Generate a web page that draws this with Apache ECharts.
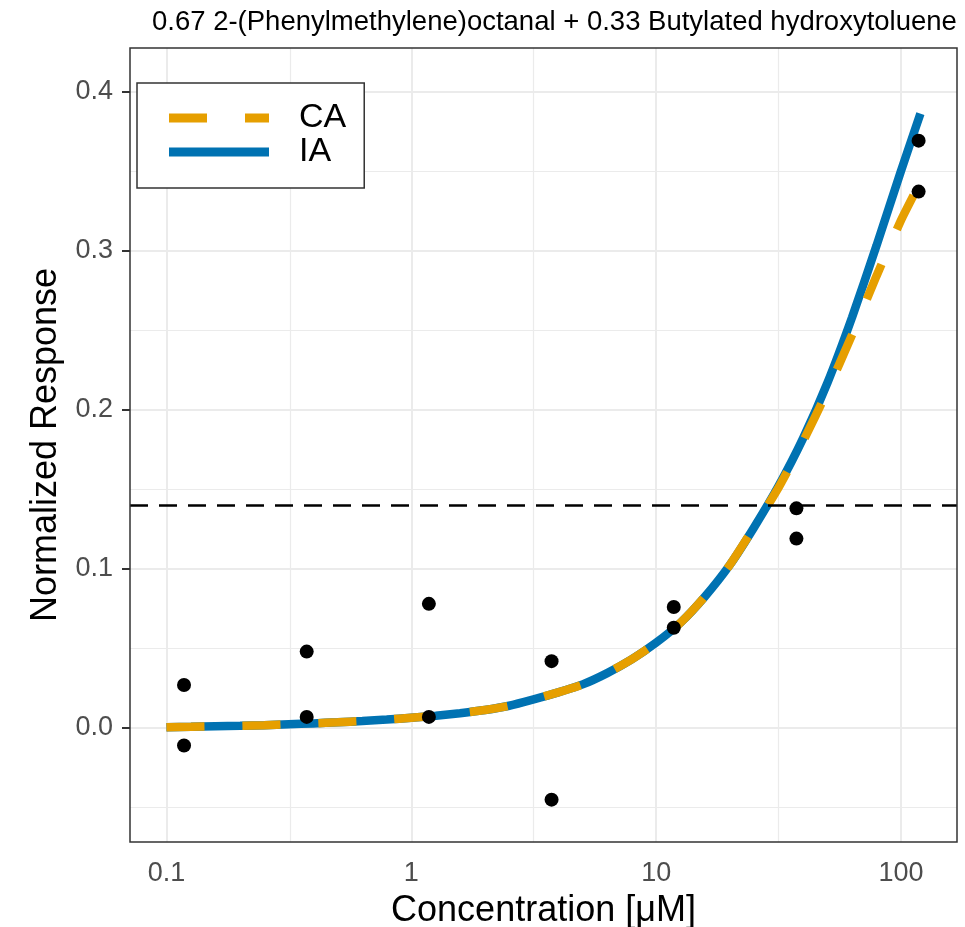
<!DOCTYPE html>
<html>
<head>
<meta charset="utf-8">
<script src="https://cdn.jsdelivr.net/npm/echarts@6/dist/echarts.min.js"></script>
<style>
html,body{margin:0;padding:0;background:#fff;}
#chart{width:965px;height:927px;}
</style>
</head>
<body>
<div id="chart"></div>
<script>
// ---- data ----
const titleText = '0.67 2-(Phenylmethylene)octanal + 0.33 Butylated hydroxytoluene';
const xTitle = 'Concentration [\u03bcM]';
const yTitle = 'Normalized Response';

// model curves (read along concentration)
const curveConc = [0.1, 0.126, 0.158, 0.2, 0.251, 0.316, 0.398, 0.501, 0.631, 0.794,
                   1, 1.26, 1.58, 2, 2.51, 3.16, 3.98, 5.01, 6.31, 7.94,
                   10, 12.6, 15.8, 20, 25.1, 31.6, 39.8, 50.1, 63.1, 79.4, 100, 120];
const iaValues  = [0.0005, 0.0008, 0.0011, 0.0014, 0.0018, 0.0024, 0.0029, 0.0036, 0.0044, 0.0053,
                   0.0065, 0.0077, 0.0093, 0.0113, 0.0140, 0.0180, 0.0224, 0.0274, 0.0345, 0.0431,
                   0.0536, 0.0663, 0.0825, 0.1025, 0.126, 0.152, 0.182, 0.217, 0.258, 0.303, 0.350, 0.386];
const caValues  = [0.0005, 0.0008, 0.0011, 0.0014, 0.0018, 0.0024, 0.0029, 0.0036, 0.0044, 0.0053,
                   0.0065, 0.0077, 0.0093, 0.0113, 0.0140, 0.0180, 0.0224, 0.0274, 0.0345, 0.0431,
                   0.0536, 0.0663, 0.0825, 0.1025, 0.126, 0.151, 0.180, 0.212, 0.247, 0.284, 0.319, 0.343];

// observed responses
const obsConc  = [0.118, 0.118, 0.374, 0.374, 1.18, 1.18, 3.74, 3.74, 11.8, 11.8, 37.4, 37.4, 118, 118];
const obsValue = [0.027, -0.011, 0.048, 0.007, 0.078, 0.007, 0.042, -0.045, 0.076, 0.063, 0.138, 0.119, 0.369, 0.337];

const threshold = 0.14;

// axes
const xTicks = [0.1, 1, 10, 100];
const xMinorGrid = [0.316, 3.16, 31.6];
const yTicks = [0, 0.1, 0.2, 0.3, 0.4];
const yMinorGrid = [-0.05, 0.05, 0.15, 0.25, 0.35];
const xRange = [0.0710, 169.3];
const yRange = [-0.0716, 0.4272];

// ---- chart ----
const FONT = "'Liberation Sans', Arial, sans-serif";
const chart = echarts.init(document.getElementById('chart'), null, {renderer: 'canvas'});

const pairs = (xs, ys) => xs.map((x, i) => [x, ys[i]]);

const gridLines = []
  .concat(xTicks.map(v => ({xAxis: v, lineStyle: {width: 2}})))
  .concat(xMinorGrid.map(v => ({xAxis: v, lineStyle: {width: 1.2}})))
  .concat(yTicks.map(v => ({yAxis: v, lineStyle: {width: 2}})))
  .concat(yMinorGrid.map(v => ({yAxis: v, lineStyle: {width: 1.2}})));

const option = {
  animation: false,
  backgroundColor: '#ffffff',
  title: {
    text: titleText,
    left: 152, top: 8, padding: 0,
    textStyle: {fontFamily: FONT, fontSize: 27.5, fontWeight: 'normal', color: '#000'}
  },
  grid: {
    left: 130, right: 8, top: 48, bottom: 85,
    containLabel: false, outerBoundsMode: 'none',
    show: true, z: 10, backgroundColor: 'transparent',
    borderColor: '#333333', borderWidth: 1.5
  },
  legend: {
    data: [
      {name: 'CA', icon: 'path://M0,0h38v9h-38Z M76,0h24v9h-24Z'},
      {name: 'IA', icon: 'rect'}
    ],
    orient: 'vertical',
    left: 137, top: 83,
    padding: [18, 18, 19, 32],
    itemGap: 0,
    itemWidth: 100, itemHeight: 9,
    backgroundColor: '#fff',
    borderColor: '#333333', borderWidth: 1.5, borderRadius: 0,
    itemStyle: {borderWidth: 0},
    formatter: name => '{a|' + name + '}',
    textStyle: {
      fontFamily: FONT, color: '#000',
      rich: {a: {fontFamily: FONT, fontSize: 34, lineHeight: 32, padding: [0, 0, 0, 25], color: '#000'}}
    },
    selectedMode: false
  },
  xAxis: {
    type: 'log', logBase: 10,
    min: xRange[0], max: xRange[1],
    name: xTitle, nameLocation: 'middle', nameGap: 51,
    nameTextStyle: {fontFamily: FONT, fontSize: 36, color: '#000'},
    axisLine: {show: false},
    axisTick: {show: true, length: 8, customValues: xTicks, lineStyle: {color: '#333333', width: 2}},
    axisLabel: {
      customValues: xTicks, margin: 18,
      fontFamily: FONT, fontSize: 27, color: '#4D4D4D',
      formatter: v => String(v)
    },
    splitLine: {show: false}, minorSplitLine: {show: false}
  },
  yAxis: {
    type: 'value',
    min: yRange[0], max: yRange[1],
    name: yTitle, nameLocation: 'middle', nameGap: 64,
    nameTextStyle: {fontFamily: FONT, fontSize: 36, color: '#000'},
    axisLine: {show: false},
    axisTick: {show: true, length: 8, customValues: yTicks, lineStyle: {color: '#333333', width: 2}},
    axisLabel: {
      customValues: yTicks, margin: 17,
      fontFamily: FONT, fontSize: 27, color: '#4D4D4D',
      formatter: v => Number(v).toFixed(1)
    },
    splitLine: {show: false}
  },
  series: [
    {
      name: 'gridlines', type: 'line', data: [], silent: true, z: 1,
      markLine: {
        silent: true, symbol: ['none', 'none'], z: 1, animation: false,
        label: {show: false},
        lineStyle: {color: '#EBEBEB', type: 'solid'},
        emphasis: {disabled: true},
        data: gridLines
      }
    },
    {
      name: 'IA', type: 'line', z: 2,
      data: pairs(curveConc, iaValues),
      smooth: 0.2,
      symbol: 'none', showSymbol: false,
      color: '#0072B2',
      lineStyle: {color: '#0072B2', width: 8.5, type: 'solid', cap: 'butt'}
    },
    {
      name: 'CA', type: 'line', z: 3,
      data: pairs(curveConc, caValues),
      smooth: 0.2,
      symbol: 'none', showSymbol: false,
      color: '#E69F00',
      lineStyle: {color: '#E69F00', width: 8.5, type: [38, 38], cap: 'butt'}
    },
    {
      name: 'observed', type: 'scatter', z: 4,
      data: pairs(obsConc, obsValue),
      symbol: 'circle', symbolSize: 14,
      itemStyle: {color: '#000', opacity: 1}
    },
    {
      name: 'threshold', type: 'line', data: [], silent: true, z: 5,
      markLine: {
        silent: true, symbol: ['none', 'none'], z: 5, animation: false,
        label: {show: false},
        lineStyle: {color: '#000', width: 2.5, type: [18, 11]},
        emphasis: {disabled: true},
        data: [{yAxis: threshold}]
      }
    }
  ]
};
chart.setOption(option);
</script>
</body>
</html>
